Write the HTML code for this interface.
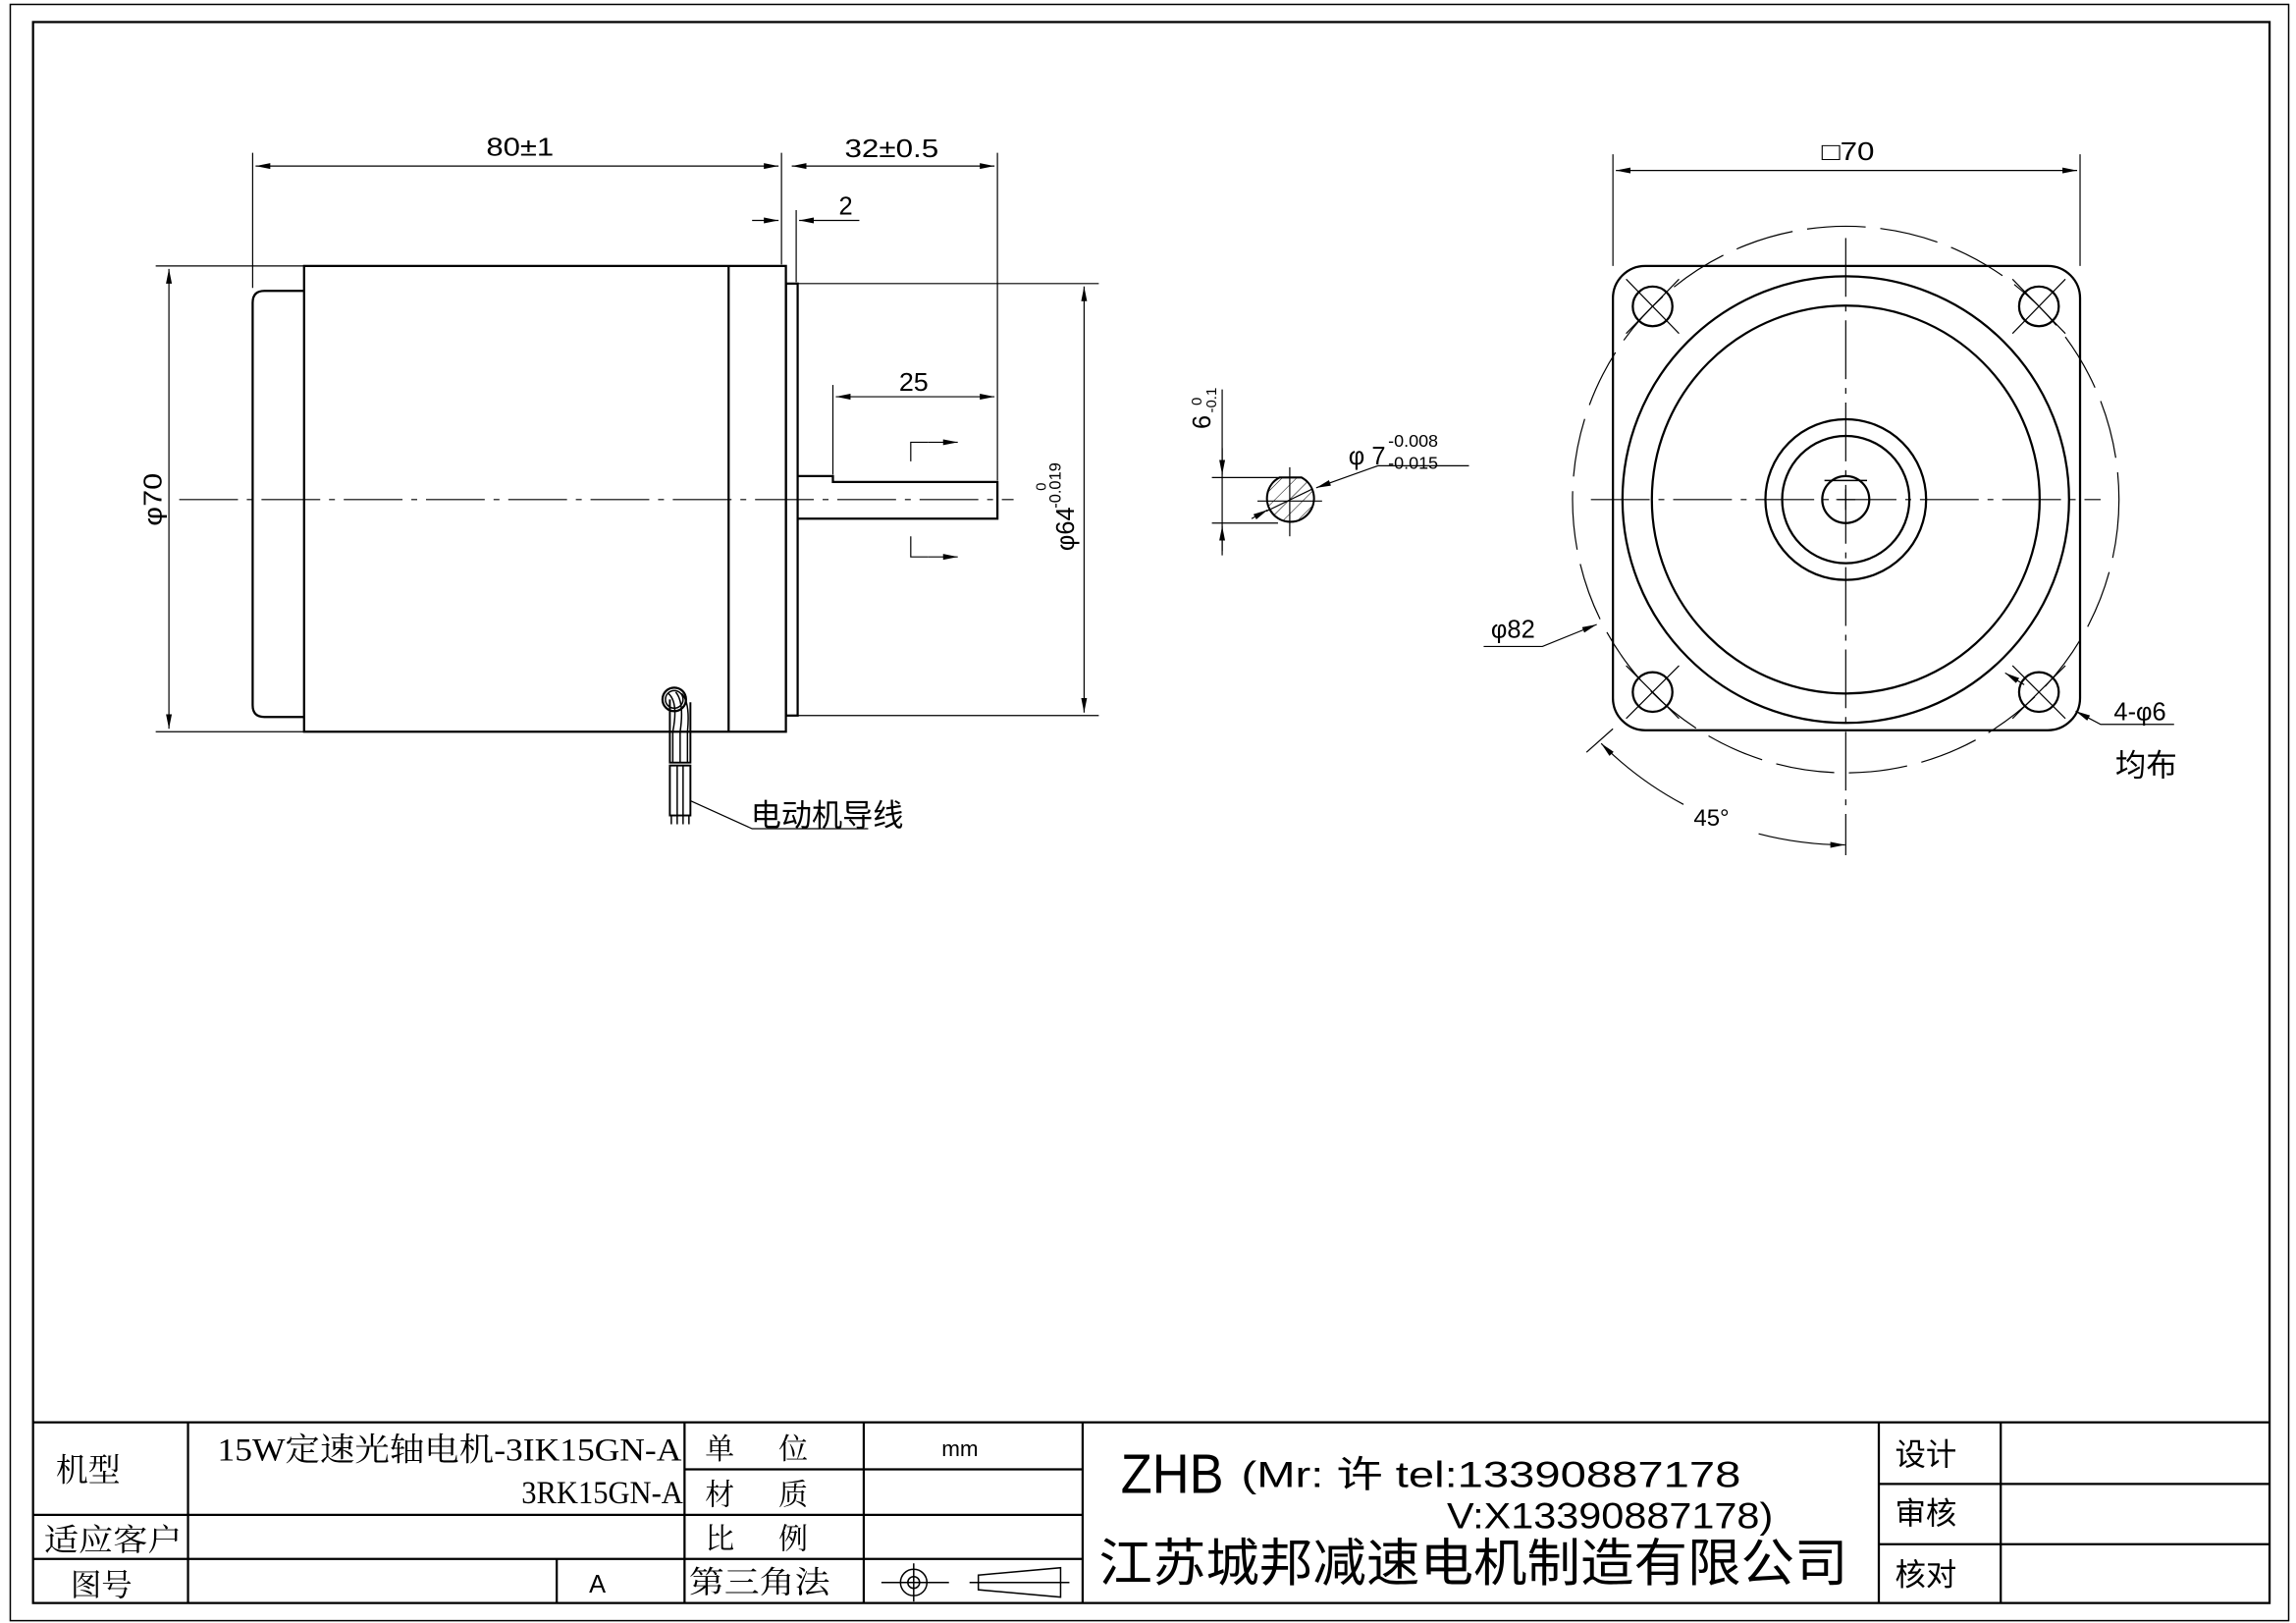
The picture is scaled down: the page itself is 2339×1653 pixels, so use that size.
<!DOCTYPE html>
<html><head><meta charset="utf-8"><style>
html,body{margin:0;padding:0;background:#fff;}
svg{display:block;}
text{font-family:"Liberation Sans","Noto Sans CJK SC",sans-serif;fill:#000;}
</style></head><body>
<svg width="2339" height="1653" viewBox="0 0 1563 1104.6" preserveAspectRatio="none" xmlns="http://www.w3.org/2000/svg">
<defs>
<marker id="a" viewBox="0 0 10 4" refX="10" refY="2" markerWidth="10" markerHeight="4" markerUnits="userSpaceOnUse" orient="auto-start-reverse"><path d="M0,0 L10,2 L0,4 z" fill="#000"/></marker>
<pattern id="h" patternUnits="userSpaceOnUse" width="7" height="7" patternTransform="rotate(45)"><line x1="0" y1="0" x2="0" y2="7" stroke="#000" stroke-width="0.7"/></pattern>
</defs>
<g fill="none" stroke="#000">
<!-- frames -->
<rect x="7" y="3" width="1551" height="1100" stroke-width="1"/>
<rect x="22.5" y="15" width="1522.5" height="1076" stroke-width="1.5"/>
<!-- title block -->
<g stroke-width="1.5">
<line x1="22" y1="968" x2="1545" y2="968"/>
<line x1="128" y1="968" x2="128" y2="1091"/>
<line x1="466" y1="968" x2="466" y2="1091"/>
<line x1="588" y1="968" x2="588" y2="1091"/>
<line x1="737" y1="968" x2="737" y2="1091"/>
<line x1="1279" y1="968" x2="1279" y2="1091"/>
<line x1="1362" y1="968" x2="1362" y2="1091"/>
<line x1="22" y1="1031" x2="737" y2="1031"/>
<line x1="22" y1="1061" x2="737" y2="1061"/>
<line x1="466" y1="1000" x2="737" y2="1000"/>
<line x1="379" y1="1061" x2="379" y2="1091"/>
<line x1="1279" y1="1010" x2="1545" y2="1010"/>
<line x1="1279" y1="1051" x2="1545" y2="1051"/>
</g>
<!-- third angle symbol -->
<g stroke-width="1">
<circle cx="622" cy="1077" r="9"/><circle cx="622" cy="1077" r="4"/>
<line x1="600" y1="1077" x2="646" y2="1077"/><line x1="622" y1="1064" x2="622" y2="1090"/>
<path d="M666,1072 L722,1067 L722,1087 L666,1082 Z"/><line x1="660" y1="1077" x2="728" y2="1077"/>
</g>

<!-- SIDE VIEW -->
<g stroke-width="1.5">
<rect x="207" y="181" width="328" height="317"/>
<line x1="496" y1="181" x2="496" y2="498"/>
<path d="M207,198 L180,198 Q172,198 172,206 L172,480 Q172,488 180,488 L207,488"/>
<rect x="535" y="193" width="8" height="294"/>
<path d="M543,324 L567,324 L567,328 L679,328 L679,353 L543,353"/>
</g>
<g stroke-width="0.8">
<line x1="122" y1="340" x2="690" y2="340" stroke-dasharray="40,6,4,6"/>
<!-- 80 -->
<line x1="172" y1="104" x2="172" y2="196"/>
<line x1="532" y1="104" x2="532" y2="180"/>
<line x1="679" y1="104" x2="679" y2="327"/>
<line x1="174" y1="113" x2="530" y2="113" marker-start="url(#a)" marker-end="url(#a)"/>
<line x1="539" y1="113" x2="677" y2="113" marker-start="url(#a)" marker-end="url(#a)"/>
<!-- 2 -->
<line x1="542" y1="143" x2="542" y2="192"/>
<line x1="512" y1="150" x2="530" y2="150" marker-end="url(#a)"/>
<line x1="585" y1="150" x2="544" y2="150" marker-end="url(#a)"/>
<!-- 25 -->
<line x1="567" y1="262" x2="567" y2="323"/>
<line x1="569" y1="270" x2="677" y2="270" marker-start="url(#a)" marker-end="url(#a)"/>
<!-- section marks -->
<path d="M620,314 L620,301 L632,301"/><line x1="632" y1="301" x2="652" y2="301" marker-end="url(#a)"/>
<path d="M620,365 L620,379 L632,379"/><line x1="632" y1="379" x2="652" y2="379" marker-end="url(#a)"/>
<!-- phi70 -->
<line x1="106" y1="181" x2="207" y2="181"/>
<line x1="106" y1="498" x2="207" y2="498"/>
<line x1="115" y1="183" x2="115" y2="496" marker-start="url(#a)" marker-end="url(#a)"/>
<!-- phi64 -->
<line x1="543" y1="193" x2="748" y2="193"/>
<line x1="543" y1="487" x2="748" y2="487"/>
<line x1="738" y1="195" x2="738" y2="485" marker-start="url(#a)" marker-end="url(#a)"/>
</g>
<!-- wire -->
<g stroke-width="1">
<circle cx="459" cy="476" r="8" stroke-width="1.5"/>
<circle cx="459" cy="476" r="6"/>
<path d="M455,472 Q462,478 458,498 L458,519 M460,471 Q466,478 463,498 L463,519 M464,472 Q470,478 468,498 L468,519"/>
<path d="M456,476 L456,519 L470,519 L470,478" stroke-width="1.3"/>
<rect x="456" y="521" width="14" height="34" stroke-width="1.3"/>
<line x1="461" y1="521" x2="461" y2="561"/><line x1="465" y1="521" x2="465" y2="561"/><line x1="469" y1="555" x2="469" y2="561"/><line x1="457" y1="555" x2="457" y2="561"/>
<path d="M470,545 L512,564 L591,564" stroke-width="0.8"/>
</g>

<!-- SECTION -->
<g stroke-width="0.8">
<line x1="832" y1="265" x2="832" y2="378"/>
<line x1="825" y1="325" x2="870" y2="325"/>
<line x1="825" y1="356" x2="870" y2="356"/>
<line x1="832" y1="305" x2="832" y2="323" marker-end="url(#a)"/>
<line x1="832" y1="375" x2="832" y2="358" marker-end="url(#a)"/>
<line x1="856" y1="341" x2="900" y2="341"/>
<line x1="878" y1="318" x2="878" y2="365"/>
</g>
<path d="M871,325 L886,325 A16,16 0 1 1 871,325 Z" fill="url(#h)" stroke-width="1.4"/>
<g stroke-width="0.8">
<line x1="852" y1="353" x2="863" y2="347" marker-end="url(#a)"/>
<line x1="862" y1="348" x2="893" y2="333"/>
<path d="M1000,317 L938,317 L896,332" marker-end="url(#a)"/>
</g>

<!-- FRONT VIEW -->
<g stroke-width="1.5">
<rect x="1098" y="181" width="318" height="316" rx="22" ry="22"/>
<circle cx="1256.5" cy="340" r="152"/>
<circle cx="1256.5" cy="340" r="132"/>
<circle cx="1256.5" cy="340" r="54.7"/>
<circle cx="1256.5" cy="340" r="43.3"/>
<circle cx="1256.5" cy="340" r="16"/>
<circle cx="1125" cy="208.5" r="13.5"/>
<circle cx="1388" cy="208.5" r="13.5"/>
<circle cx="1125" cy="471" r="13.5"/>
<circle cx="1388" cy="471" r="13.5"/>
</g>
<line x1="1242" y1="327" x2="1271" y2="327" stroke-width="1"/>
<g stroke-width="0.8">
<circle cx="1256.5" cy="340" r="186" stroke-dasharray="40,10"/>
<line x1="1256.5" y1="162" x2="1256.5" y2="582" stroke-dasharray="40,6,4,6"/>
<line x1="1083" y1="340" x2="1430" y2="340" stroke-dasharray="40,6,4,6"/>
<line x1="1250" y1="340" x2="1263" y2="340"/><line x1="1256.5" y1="333" x2="1256.5" y2="347"/>
<line x1="1107" y1="190" x2="1143" y2="227"/><line x1="1143" y1="190" x2="1107" y2="227"/>
<line x1="1370" y1="190" x2="1406" y2="227"/><line x1="1406" y1="190" x2="1370" y2="227"/>
<line x1="1107" y1="453" x2="1143" y2="489"/><line x1="1143" y1="453" x2="1107" y2="489"/>
<line x1="1370" y1="453" x2="1406" y2="489"/><line x1="1406" y1="453" x2="1370" y2="489"/>
<!-- square 70 -->
<line x1="1098" y1="105" x2="1098" y2="181"/>
<line x1="1416" y1="105" x2="1416" y2="181"/>
<line x1="1100" y1="116" x2="1414" y2="116" marker-start="url(#a)" marker-end="url(#a)"/>
<!-- phi82 -->
<path d="M1010,440 L1050,440 L1087,425" marker-end="url(#a)"/>
<!-- 4-phi6 -->
<path d="M1480,493 L1430,493 L1413,484" marker-end="url(#a)"/>
<line x1="1365" y1="458" x2="1378" y2="466" marker-start="url(#a)"/>
<!-- 45 arc -->
<path d="M1090,506 A235,235 0 0 0 1256,575" marker-start="url(#a)" marker-end="url(#a)" stroke-dasharray="70,55,200"/>
<line x1="1080" y1="512" x2="1098" y2="496"/>
</g>
</g>

<!-- TEXT -->
<g font-size="17">
<text x="331" y="106" textLength="46" lengthAdjust="spacingAndGlyphs">80±1</text>
<text x="575" y="107" textLength="64" lengthAdjust="spacingAndGlyphs">32±0.5</text>
<text x="571" y="146">2</text>
<text x="612" y="266" textLength="20" lengthAdjust="spacingAndGlyphs">25</text>
<text transform="translate(110,358) rotate(-90)" textLength="36" lengthAdjust="spacingAndGlyphs">φ70</text>
<text transform="translate(731,375) rotate(-90)">φ64</text>
<text transform="translate(722,346) rotate(-90)" font-size="11">-0.019</text>
<text transform="translate(712,334) rotate(-90)" font-size="10">0</text>
<text transform="translate(824,292) rotate(-90)">6</text>
<text transform="translate(828,281) rotate(-90)" font-size="10">-0.1</text>
<text transform="translate(818,276) rotate(-90)" font-size="10">0</text>
<text x="918" y="316">φ 7</text>
<text x="945" y="304" font-size="12">-0.008</text>
<text x="945" y="319" font-size="12">-0.015</text>
<text x="1240" y="109" textLength="36" lengthAdjust="spacingAndGlyphs">□70</text>
<text x="1015" y="434">φ82</text>
<text x="1439" y="490">4-φ6</text>
<text x="1153" y="562" font-size="16">45°</text>
</g>
<text x="1440" y="528" font-size="21">均布</text>
<text x="511" y="562" font-size="21" textLength="104" lengthAdjust="spacingAndGlyphs">电动机导线</text>

<!-- title block text -->
<g font-family="'Liberation Serif','Noto Serif CJK SC',serif">
<text x="38" y="1008" font-size="22" style="font-family:'Liberation Serif','Noto Serif CJK SC',serif">机型</text>
<text x="148" y="994" font-size="22" textLength="316" lengthAdjust="spacingAndGlyphs" style="font-family:'Liberation Serif','Noto Serif CJK SC',serif">15W定速光轴电机-3IK15GN-A</text>
<text x="355" y="1023" font-size="22" textLength="110" lengthAdjust="spacingAndGlyphs" style="font-family:'Liberation Serif','Noto Serif CJK SC',serif">3RK15GN-A</text>
<text x="30" y="1055" font-size="21" textLength="94" lengthAdjust="spacingAndGlyphs" style="font-family:'Liberation Serif','Noto Serif CJK SC',serif">适应客户</text>
<text x="48" y="1086" font-size="21" style="font-family:'Liberation Serif','Noto Serif CJK SC',serif">图号</text>
<text x="480" y="993" font-size="20" style="font-family:'Liberation Serif','Noto Serif CJK SC',serif">单</text>
<text x="530" y="993" font-size="20" style="font-family:'Liberation Serif','Noto Serif CJK SC',serif">位</text>
<text x="480" y="1024" font-size="20" style="font-family:'Liberation Serif','Noto Serif CJK SC',serif">材</text>
<text x="530" y="1024" font-size="20" style="font-family:'Liberation Serif','Noto Serif CJK SC',serif">质</text>
<text x="480" y="1054" font-size="20" style="font-family:'Liberation Serif','Noto Serif CJK SC',serif">比</text>
<text x="530" y="1054" font-size="20" style="font-family:'Liberation Serif','Noto Serif CJK SC',serif">例</text>
<text x="469" y="1084" font-size="21" textLength="96" lengthAdjust="spacingAndGlyphs" style="font-family:'Liberation Serif','Noto Serif CJK SC',serif">第三角法</text>
</g>
<text x="641" y="991" font-size="15">mm</text>
<text x="401" y="1084" font-size="17">A</text>
<text x="763" y="1016" font-size="38" textLength="70" lengthAdjust="spacingAndGlyphs">ZHB</text>
<text x="845" y="1012" font-size="25" textLength="340" lengthAdjust="spacingAndGlyphs">(Mr: 许 tel:13390887178</text>
<text x="985" y="1040" font-size="25" textLength="222" lengthAdjust="spacingAndGlyphs">V:X13390887178)</text>
<text x="748" y="1076" font-size="35" textLength="510" lengthAdjust="spacingAndGlyphs">江苏城邦减速电机制造有限公司</text>
<text x="1290" y="997" font-size="21">设计</text>
<text x="1290" y="1037" font-size="21">审核</text>
<text x="1290" y="1079" font-size="21">核对</text>
</svg>
</body></html>
